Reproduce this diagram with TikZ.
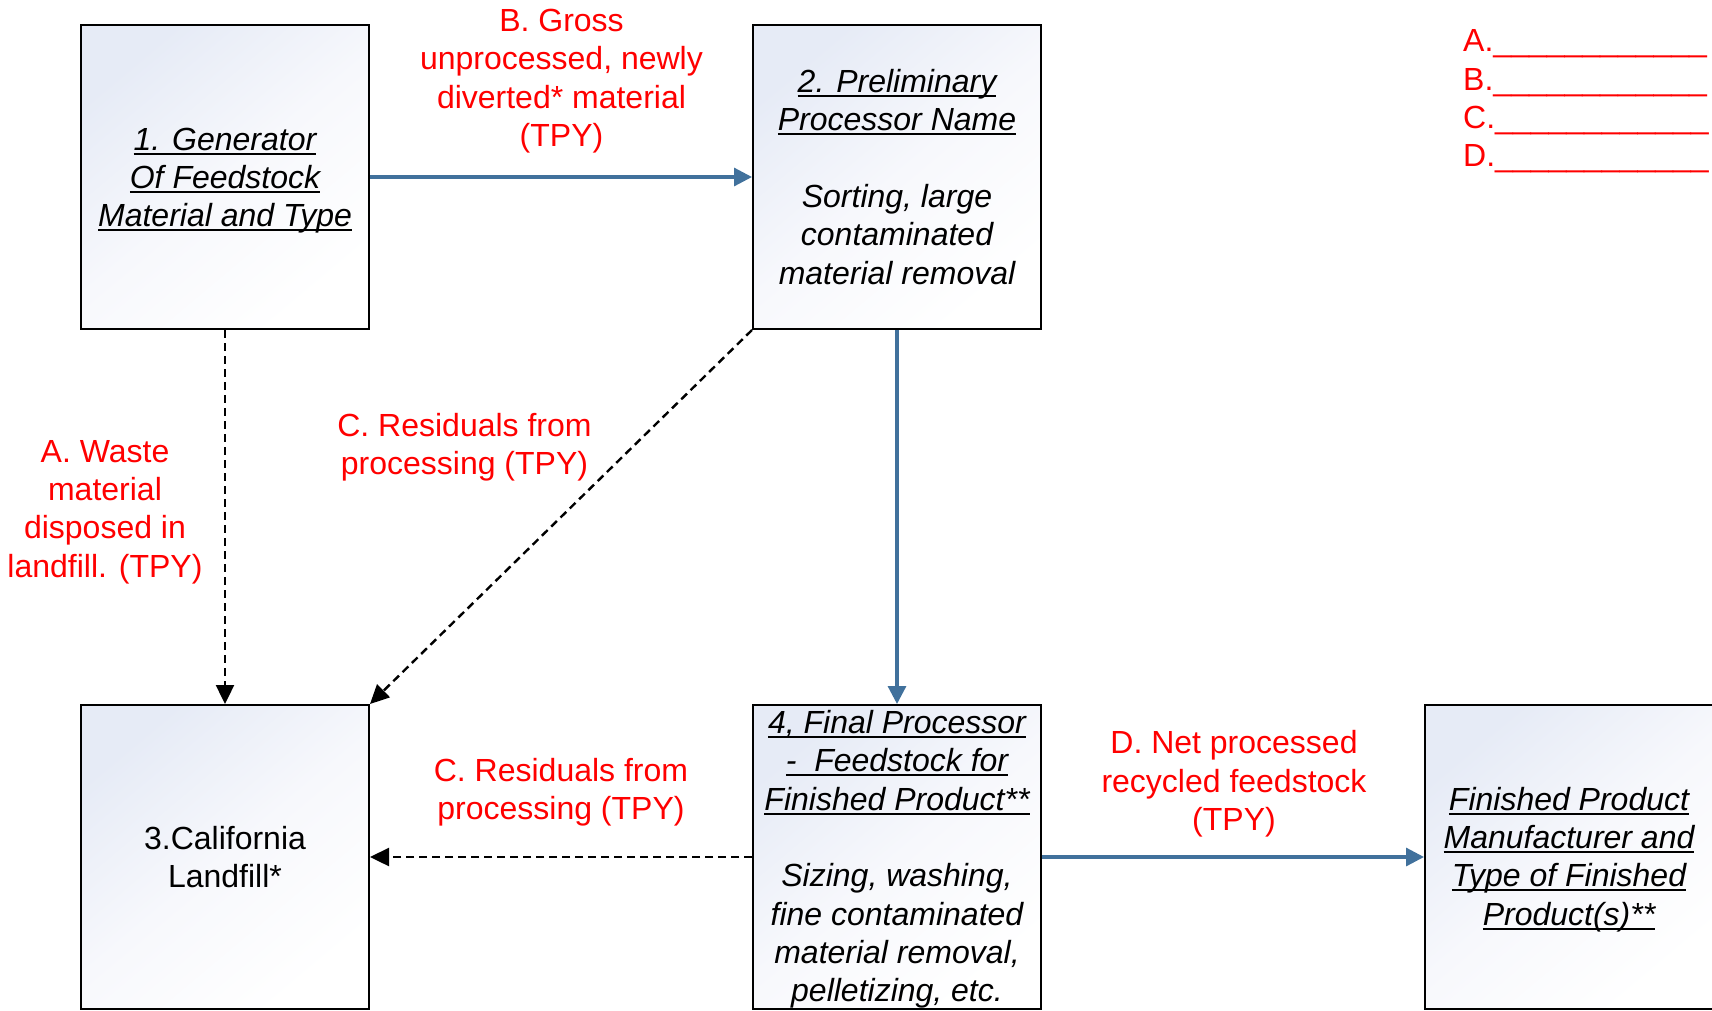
\documentclass[tikz,border=0pt]{standalone}
\usepackage{fontspec}
\setmainfont{Liberation Sans}
\usetikzlibrary{arrows.meta}
\definecolor{flowblue}{RGB}{65,113,156}
\definecolor{boxtop}{RGB}{230,235,246}
\definecolor{boxmid}{RGB}{247,248,252}
\newcommand\ulx[1]{\setbox0\hbox{#1}\rlap{\rule[-4.5bp]{\wd0}{2bp}}\box0}
\begin{document}
\begin{tikzpicture}[x=1bp,y=-1bp,
  basefont/.style={font=\fontsize{32bp}{38.3bp}\selectfont},
  box/.style={draw=black, line width=2bp, minimum width=288bp, minimum height=304bp,
    inner sep=0pt, align=center, top color=boxtop, bottom color=white, middle color=boxmid,
    shading angle=40, basefont},
  itbox/.style={box, font=\fontsize{32bp}{38.3bp}\selectfont\itshape},
  lbl/.style={text=red, align=center, inner sep=0pt, basefont},
  flow/.style={draw=flowblue, line width=3.2bp, -{Triangle[length=18bp,width=18bp]}},
  resid/.style={draw=black, line width=2.4bp, dash pattern=on 8bp off 5bp,
    -{Triangle[length=19bp,width=18bp]}}]
\useasboundingbox (0,0) rectangle (1712,1010);
% boxes
\node[itbox] (gen) at (225,177) {\rule{0pt}{30bp}\ulx{1. Generator}\\\ulx{Of Feedstock}\\\ulx{Material and Type}};
\node[itbox] (pre) at (897,177) {\ulx{2. Preliminary}\\\ulx{Processor Name}\\[38.3bp]Sorting, large\\contaminated\\material removal};
\node[box] (land) at (225,857) {3.California\\Landfill*};
\node[itbox] (fin) at (897,857) {\rule{0pt}{28bp}\ulx{4, Final Processor}\\\ulx{-\ \ Feedstock for}\\\ulx{Finished Product**}\\[38.3bp]Sizing, washing,\\fine contaminated\\material removal,\\pelletizing, etc.};
\node[itbox] (man) at (1569,857) {\rule{0pt}{28bp}\ulx{Finished Product}\\\ulx{Manufacturer and}\\\ulx{Type of Finished}\\\ulx{Product(s)**}};
% connectors
\draw[flow] (gen.east) -- (pre.west);
\draw[flow] (pre.south) -- (fin.north);
\draw[flow] (fin.east) -- (man.west);
\draw[resid] (gen.south) -- (land.north);
\draw[resid] (pre.south west) -- (land.north east);
\draw[resid] (fin.west) -- (land.east);
% labels
\node[lbl] (labB) at (561.5,81) {B. Gross\\unprocessed, newly\\diverted* material\\(TPY)};
\node[lbl] (labA) at (105,512) {A. Waste\\material\\disposed in\\landfill. (TPY)};
\node[lbl] (labC1) at (464.5,447) {C. Residuals from\\processing (TPY)};
\node[lbl] (labC2) at (561,792) {C. Residuals from\\processing (TPY)};
\node[lbl] (labD) at (1234,784) {D. Net processed\\recycled feedstock\\(TPY)};
% legend
\node[lbl, anchor=base west] (legA) at (1463,51.7) {A.\_\_\_\_\_\_\_\_\_\_\_\_};
\node[lbl, anchor=base west] (legB) at (1463,90) {B.\_\_\_\_\_\_\_\_\_\_\_\_};
\node[lbl, anchor=base west] (legC) at (1463,128.3) {C.\_\_\_\_\_\_\_\_\_\_\_\_};
\node[lbl, anchor=base west] (legD) at (1463,166.6) {D.\_\_\_\_\_\_\_\_\_\_\_\_};
\end{tikzpicture}
\end{document}
